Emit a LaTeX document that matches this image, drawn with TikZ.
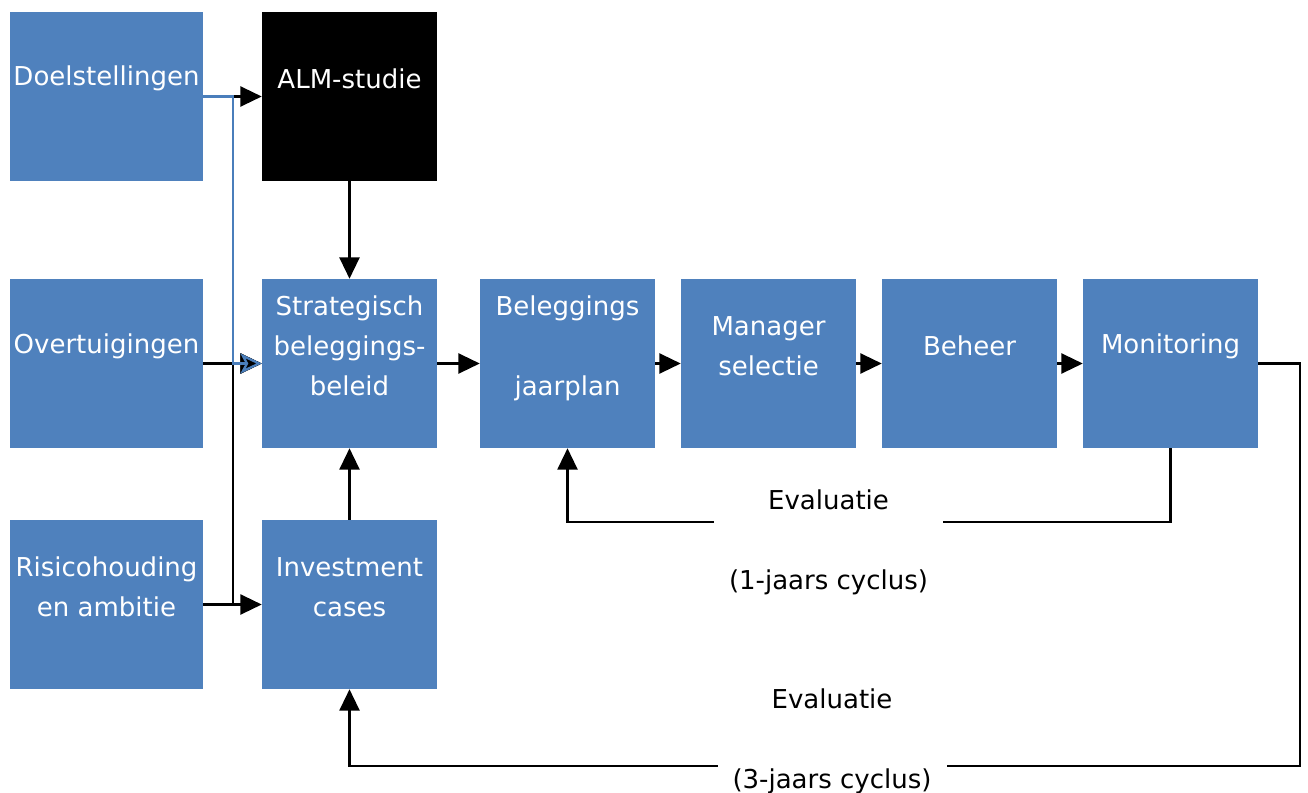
\documentclass[tikz,border=0pt]{standalone}
\usepackage{fontspec}
\setmainfont{DejaVu Sans}
\usetikzlibrary{arrows.meta}
\definecolor{boxblue}{HTML}{4F81BD}
\definecolor{lineblue}{HTML}{4A7EBB}
\tikzset{
  box/.style={fill=boxblue, draw=none, inner sep=0pt, minimum height=126.75pt},
  wbox/.style={box, minimum width=144.75pt},
  nbox/.style={box, minimum width=131.25pt},
  btext/.style={text=white, align=center, inner sep=0pt, font=\fontsize{19.5}{30}\selectfont},
  lab/.style={fill=white, text=black, align=center, inner sep=2pt, minimum width=171.75pt, font=\fontsize{19.5}{30}\selectfont},
  arr/.style={draw=black, line width=1.7pt, -{Triangle[length=16pt 0 0,width=15pt 0 0]}},
  barr/.style={draw=lineblue, line width=1.7pt, -{Stealth[open,length=16pt 0 0,width=15pt 0 0,inset=4pt]}}
}
\begin{document}
\begin{tikzpicture}[x=0.75pt,y=-0.75pt]
\useasboundingbox (0,0) rectangle (1308,792);
% boxes
\node[wbox] (doel) at (106.5,96.5) {};
\node[nbox, fill=black] (alm) at (349.5,96.5) {};
\node[wbox] (overt) at (106.5,363.5) {};
\node[nbox] (strat) at (349.5,363.5) {};
\node[nbox] (jaar) at (567.5,363.5) {};
\node[nbox] (mgr) at (768.5,363.5) {};
\node[nbox] (beh) at (969.5,363.5) {};
\node[nbox] (mon) at (1170.5,363.5) {};
\node[wbox] (risico) at (106.5,604.5) {};
\node[nbox] (inv) at (349.5,604.5) {};
% texts
\node[btext] (doelT) at ([yshift=13.5pt]doel.center) {Doelstellingen};
\node[btext] (almT) at ([yshift=13.5pt]alm.center) {ALM-studie};
\node[btext] (overtT) at ([yshift=13.2pt]overt.center) {Overtuigingen};
\node[btext] (stratT) at ([yshift=13.5pt]strat.center) {Strategisch\\beleggings-\\beleid};
\node[btext] (jaarT) at ([yshift=11.5pt]jaar.center) {Beleggings\\[30pt]jaarplan};
\node[btext] (mgrT) at ([yshift=13pt]mgr.center) {Manager\\selectie};
\node[btext] (behT) at ([yshift=13.2pt]beh.center) {Beheer};
\node[btext] (monT) at ([yshift=13.2pt]mon.center) {Monitoring};
\node[btext] (risicoT) at ([yshift=13pt]risico.center) {Risicohouding\\en ambitie};
\node[btext] (invT) at ([yshift=13pt]inv.center) {Investment\\cases};
% black connectors
\draw[arr] (doel.east) -- (alm.west);
\draw[arr] (overt.east) -- (strat.west);
\draw[arr] (risico.east) -- (inv.west);
\draw[arr] (risico.east) -- ++(29.5,0) |- (strat.west);
\draw[arr] (alm.south) -- (strat.north);
\draw[arr] (inv.north) -- (strat.south);
\draw[arr] (strat.east) -- (jaar.west);
\draw[arr] (jaar.east) -- (mgr.west);
\draw[arr] (mgr.east) -- (beh.west);
\draw[arr] (beh.east) -- (mon.west);
% blue connector
\draw[barr] (doel.east) -- ++(29.5,0) |- (strat.west);
% feedback loops
\coordinate (c1) at (1170.5,522);
\draw[arr] (mon.south) -- (c1) -| (jaar.south);
\coordinate (c2) at (1300,363.5);
\coordinate (c3) at (1300,766);
\draw[arr] (mon.east) -- (c2) -- (c3) -| (inv.south);
% labels
\node[lab] (ev1) at (828.5,542) {Evaluatie\\[30pt](1-jaars cyclus)};
\node[lab] (ev3) at (832,741) {Evaluatie\\[30pt](3-jaars cyclus)};
\end{tikzpicture}
\end{document}
